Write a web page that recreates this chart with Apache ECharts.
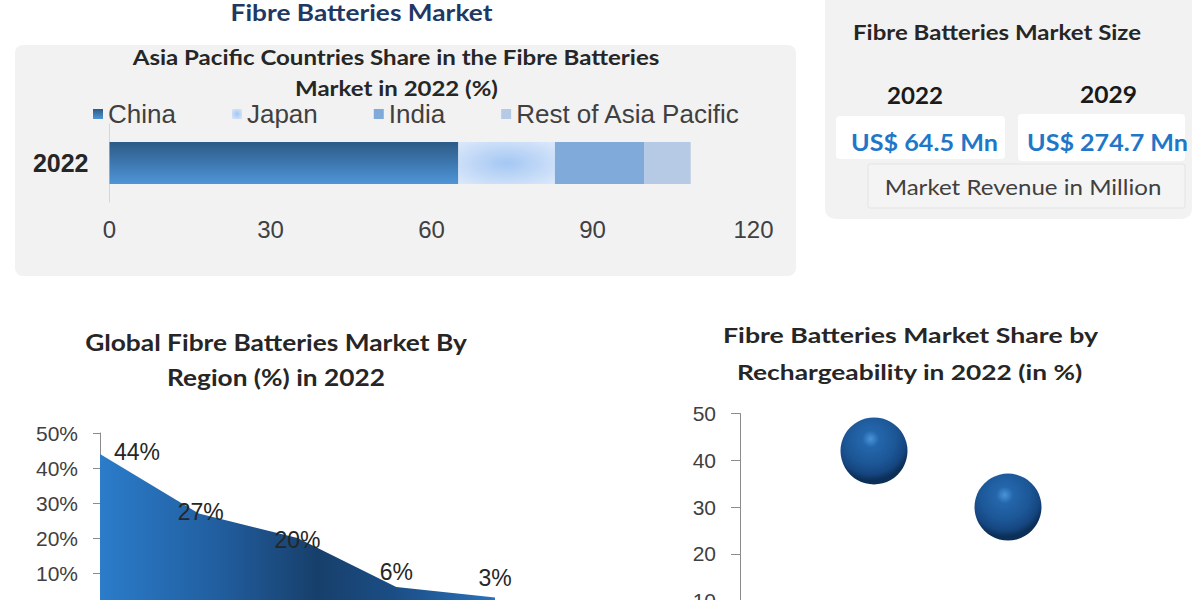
<!DOCTYPE html>
<html><head><meta charset="utf-8">
<script src="https://cdn.jsdelivr.net/npm/echarts@6/dist/echarts.min.js"></script>
<style>html,body{margin:0;padding:0;background:#fff}#c{width:1200px;height:600px}</style>
</head><body><div id="c"></div>
<script>
// ---------- data ----------
const mainTitle = 'Fibre Batteries Market';
const apTitle = ['Asia Pacific Countries Share in the Fibre Batteries', 'Market in 2022 (%)'];
const apYears = ['2022'];
const apCountries = ['China', 'Japan', 'India', 'Rest of Asia Pacific'];
const apShare = [65, 18, 16.6, 8.7];
const apAxis = { min: 0, max: 120, interval: 30 };

const sizeTitle = 'Fibre Batteries Market Size';
const sizeYears = ['2022', '2029'];
const sizeValues = [64.5, 274.7];
const sizeNote = 'Market Revenue in Million';

const regionTitle = ['Global Fibre Batteries Market By', 'Region (%) in 2022'];
const regionNames = ['Region 1', 'Region 2', 'Region 3', 'Region 4', 'Region 5'];
const regionShare = [44, 27, 20, 6, 3];
const regionAxis = { min: 0, max: 50, interval: 10 };

const rechargeTitle = ['Fibre Batteries Market Share by', 'Rechargeability in 2022 (in %)'];
const rechargeIndex = [1, 2];
const rechargeShare = [42, 30];
const rechargeAxis = { min: 0, max: 50, interval: 10 };

// ---------- styling helpers ----------
const regionLabelOffsets = [[37, 15], [2, 15], [0, 19], [0, 2], [0, -3]];
const apColors = [
  { type: 'linear', x: 0, y: 0, x2: 0, y2: 1, colorStops: [{ offset: 0, color: '#2d5a86' }, { offset: 1, color: '#4e95d8' }] },
  { type: 'radial', x: 0.5, y: 0.5, r: 0.75, colorStops: [{ offset: 0, color: '#a4c7f3' }, { offset: 1, color: '#e0ebfb' }] },
  '#80aada',
  '#b6cae6'
];
const ctx = document.createElement('canvas').getContext('2d');
function measure(t, font) { ctx.font = font; return ctx.measureText(t).width; }
function txt(t, cx, cy, size, weight, fill, targetW) {
  const font = weight + ' ' + size + 'px Lato';
  const sx = targetW ? targetW / measure(t, font) : 1;
  return {
    type: 'text', x: cx, y: cy, scaleX: sx, z: 100,
    style: { text: t, x: 0, y: 0, font: font, fill: fill, textAlign: 'center', textVerticalAlign: 'middle', verticalAlign: 'middle' }
  };
}
const dark = '#262626';
const axisFont = 'Liberation Sans';

const graphics = [
  { type: 'rect', z: -10, shape: { x: 15, y: 45, width: 781, height: 231, r: 8 }, style: { fill: '#f2f2f2' } },
  { type: 'rect', z: -10, shape: { x: 825, y: -10, width: 367, height: 229, r: 10 }, style: { fill: '#f2f2f2' } },
  { type: 'rect', z: -9, shape: { x: 836, y: 116, width: 169, height: 43, r: 4 }, style: { fill: '#ffffff' } },
  { type: 'rect', z: -9, shape: { x: 1018, y: 114, width: 167, height: 47, r: 4 }, style: { fill: '#ffffff' } },
  { type: 'rect', z: -9, shape: { x: 868, y: 164, width: 317, height: 44, r: 2 }, style: { fill: '#f4f4f4', stroke: '#e4e4e4', lineWidth: 1 } },
  txt(mainTitle, 361.5, 12, 22, 'bold', '#1f3864', 262),
  txt(apTitle[0], 396, 57, 20, 'bold', dark, 527),
  txt(apTitle[1], 396.5, 88, 20, 'bold', dark, 203),
  txt(sizeTitle, 997, 32, 21, 'bold', dark, 288),
  txt(sizeYears[0], 915, 95, 22, 'bold', '#1a1a1a', 56),
  txt(sizeYears[1], 1108.5, 95, 22, 'bold', '#1a1a1a', 57),
  txt('US$ ' + sizeValues[0] + ' Mn', 924.5, 142, 23, 'bold', '#1f77c8', 147),
  txt('US$ ' + sizeValues[1] + ' Mn', 1107.5, 142, 23, 'bold', '#1f77c8', 161),
  txt(sizeNote, 1023, 187, 21, 'normal', '#404040', 277),
  txt(regionTitle[0], 276, 342, 22, 'bold', dark, 382),
  txt(regionTitle[1], 276, 377, 22, 'bold', dark, 218),
  txt(rechargeTitle[0], 910.5, 335, 21, 'bold', dark, 375),
  txt(rechargeTitle[1], 909.6, 372, 21, 'bold', dark, 346)
];

const chart = echarts.init(document.getElementById('c'), null, { renderer: 'svg' });
chart.setOption({
  animation: false,
  backgroundColor: '#ffffff',
  graphic: { elements: graphics },
  legend: {
    data: apCountries, left: 93, top: 101, padding: 0, icon: 'rect',
    itemWidth: 10, itemHeight: 10, itemGap: 56,
    textStyle: { fontSize: 26, color: '#404040', fontFamily: axisFont }
  },
  grid: [
    { left: 109.5, top: 124, width: 644, height: 78, outerBoundsMode: 'none', containLabel: false },
    { left: 100, top: 433, width: 395, height: 175, outerBoundsMode: 'none', containLabel: false },
    { left: 740, top: 413.5, width: 402, height: 234, outerBoundsMode: 'none', containLabel: false }
  ],
  xAxis: [
    { gridIndex: 0, type: 'value', min: apAxis.min, max: apAxis.max, interval: apAxis.interval,
      splitLine: { show: false }, axisLine: { show: false }, axisTick: { show: false },
      axisLabel: { fontSize: 24, color: '#404040', fontFamily: axisFont, margin: 15 } },
    { gridIndex: 1, type: 'category', data: regionNames, boundaryGap: false,
      axisLabel: { show: false }, axisTick: { show: false }, axisLine: { show: false } },
    { gridIndex: 2, type: 'value', min: 0, max: 3, show: false, splitLine: { show: false } }
  ],
  yAxis: [
    { gridIndex: 0, type: 'category', data: apYears,
      axisLine: { show: true, lineStyle: { color: '#d6d6d6', width: 1 } }, axisTick: { show: false },
      axisLabel: { fontWeight: 'bold', fontSize: 25, color: dark, fontFamily: axisFont, margin: 21 } },
    { gridIndex: 1, type: 'value', min: regionAxis.min, max: regionAxis.max, interval: regionAxis.interval,
      splitLine: { show: false },
      axisLine: { show: true, lineStyle: { color: '#8c8c8c', width: 1 } },
      axisTick: { show: true, length: 7, lineStyle: { color: '#8c8c8c' } },
      axisLabel: { formatter: '{value}%', fontSize: 21, color: '#404040', fontFamily: axisFont, margin: 22 } },
    { gridIndex: 2, type: 'value', min: rechargeAxis.min, max: rechargeAxis.max, interval: rechargeAxis.interval,
      splitLine: { show: false },
      axisLine: { show: true, lineStyle: { color: '#8c8c8c', width: 1 } },
      axisTick: { show: true, length: 9, lineStyle: { color: '#8c8c8c' } },
      axisLabel: { fontSize: 21, color: '#404040', fontFamily: axisFont, margin: 24 } }
  ],
  series: apCountries.map((name, i) => ({
    name: name, type: 'bar', stack: 'ap', xAxisIndex: 0, yAxisIndex: 0,
    barWidth: 42, data: [apShare[i]], itemStyle: { color: apColors[i] }
  })).concat([
    {
      name: 'Region share', type: 'line', xAxisIndex: 1, yAxisIndex: 1, z: 3,
      symbol: 'circle', symbolSize: 1, showSymbol: true,
      itemStyle: { color: 'rgba(0,0,0,0)', borderWidth: 0 },
      lineStyle: { width: 0 },
      areaStyle: { opacity: 1, color: { type: 'linear', x: 0, y: 0, x2: 1, y2: 0,
        colorStops: [{ offset: 0, color: '#2b7cca' }, { offset: 0.3, color: '#215e9f' }, { offset: 0.55, color: '#173f6b' },
                     { offset: 0.75, color: '#1b4e86' }, { offset: 1, color: '#2a72bc' }] } },
      data: regionShare.map((v, i) => ({ value: v, label: { offset: regionLabelOffsets[i] } })),
      label: { show: true, position: 'top', distance: 5, formatter: '{c}%', fontSize: 23, color: '#262626', fontFamily: axisFont, opacity: 1 }
    },
    {
      name: 'Rechargeability share', type: 'scatter', xAxisIndex: 2, yAxisIndex: 2,
      symbolSize: 67,
      itemStyle: {
        opacity: 1,
        color: { type: 'radial', x: 0.45, y: 0.32, r: 0.62,
          colorStops: [{ offset: 0, color: '#4a94d8' }, { offset: 0.2, color: '#2466ab' }, { offset: 0.6, color: '#1c5797' }, { offset: 0.85, color: '#154680' }, { offset: 1, color: '#0c2f58' }] }
      },
      data: rechargeIndex.map((x, i) => [x, rechargeShare[i]])
    }
  ])
});
</script>
</body></html>
